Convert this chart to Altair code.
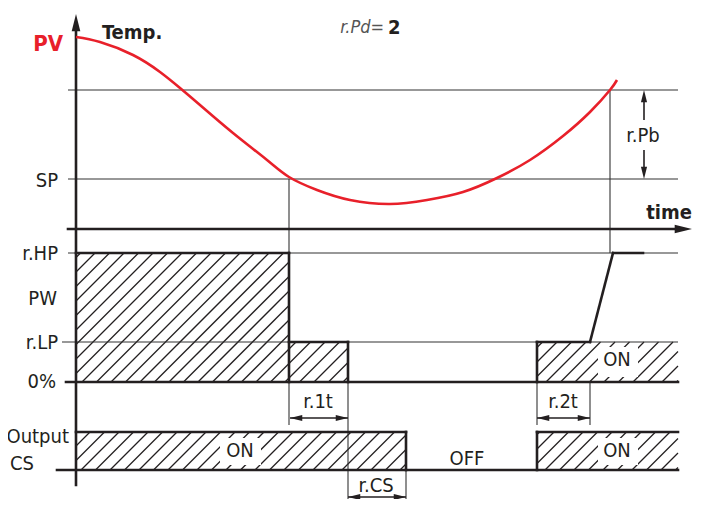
import altair as alt
import pandas as pd

# ---------------- data (diagram units = reference pixels) ----------------
# PV temperature curve
curve_x = [76, 100, 133, 160, 180, 200, 233, 267, 289, 317, 350, 390, 427, 463, 497, 530, 563, 590, 610, 617]
curve_y = [37, 42, 55, 72, 88, 105, 133, 160, 177, 190, 200, 204, 200, 192, 178, 160, 136, 112, 90, 80]

# thin reference lines: x1, y1, x2, y2
thin_x1 = [68, 68, 68, 62, 289, 348, 406, 610, 537, 590]
thin_y1 = [90, 179, 253, 342, 179, 382, 470, 90, 382, 382]
thin_x2 = [678, 678, 678, 678, 289, 348, 406, 610, 537, 590]
thin_y2 = [90, 179, 253, 342, 425, 507, 507, 253, 425, 425]

# thick signal lines
thick_x1 = [76, 68, 76, 289, 289, 348, 66, 537, 537, 590, 613, 76, 406, 57, 537, 537]
thick_y1 = [26, 229, 253, 253, 342, 342, 382, 342, 342, 342, 253, 432, 432, 470, 432, 432]
thick_x2 = [76, 680, 289, 289, 348, 348, 678, 590, 537, 613, 643, 406, 406, 678, 678, 537]
thick_y2 = [485, 229, 253, 382, 342, 382, 382, 342, 382, 253, 253, 432, 470, 470, 432, 470]

# hatched regions: x0, y0, x1, y1
hatch_x0 = [76, 289, 537, 76, 537]
hatch_y0 = [253, 342, 342, 432, 432]
hatch_x1 = [289, 348, 678, 406, 678]
hatch_y1 = [382, 382, 382, 470, 470]

# dimension arrows (double headed): x1, x2, y
dim_x1 = [290, 537, 348]
dim_x2 = [348, 590, 406]
dim_y = [418, 418, 497]

# text labels
lab_text = ["SP", "r.HP", "PW", "r.LP", "0%", "Output", "CS", "r.1t", "r.2t", "r.CS", "r.Pb", "ON", "ON", "ON", "OFF"]
lab_x = [58, 58, 57, 58, 56, 69, 10, 318, 563, 376, 643, 240, 617, 617, 467]
lab_y = [181, 254, 299, 343, 382, 437, 464, 402, 402, 486, 136, 451, 360, 451, 459]
lab_align = ["right", "right", "right", "right", "right", "right", "left", "center", "center",
             "center", "center", "center", "center", "center", "center"]

# knockouts behind ON labels
ko_x0 = [220, 598, 598]
ko_x1 = [261, 638, 638]
ko_y0 = [438, 347, 438]
ko_y1 = [465, 377, 465]

FONT = "DejaVu Sans Condensed, Roboto, sans-serif"
INK = "#231f20"
RED = "#e8202a"

# ---------------- helpers ----------------
xs = alt.Scale(domain=[8, 693], nice=False, zero=False)
ys = alt.Scale(domain=[8, 499], reverse=True, nice=False, zero=False)


def X(f):
    return alt.X(f, type="quantitative", scale=xs, axis=None)


def Y(f):
    return alt.Y(f, type="quantitative", scale=ys, axis=None)


def segs(x1, y1, x2, y2):
    return pd.DataFrame({"x1": x1, "y1": y1, "x2": x2, "y2": y2})


# hatch lines (pattern decoration, "/" direction) clipped to each rectangle
SP = 14.5
hx1, hy1, hx2, hy2 = [], [], [], []
for a0, b0, a1, b1 in zip(hatch_x0, hatch_y0, hatch_x1, hatch_y1):
    k = int((a0 + b0) // SP)
    while k * SP <= a1 + b1:
        c = k * SP
        xa = max(a0, c - b1)
        xb = min(a1, c - b0)
        if xb - xa > 0.5:
            hx1.append(xa); hy1.append(c - xa)
            hx2.append(xb); hy2.append(c - xb)
        k += 1

hatch = alt.Chart(segs(hx1, hy1, hx2, hy2)).mark_rule(color=INK, strokeWidth=1.3).encode(
    x=X("x1"), y=Y("y1"), x2="x2", y2="y2")

knock = alt.Chart(pd.DataFrame({"a": ko_x0, "b": ko_x1, "c": ko_y0, "d": ko_y1})).mark_rect(
    color="white").encode(x=X("a"), x2="b", y=Y("c"), y2="d")

thin = alt.Chart(segs(thin_x1, thin_y1, thin_x2, thin_y2)).mark_rule(
    color="#333333", strokeWidth=1.1).encode(x=X("x1"), y=Y("y1"), x2="x2", y2="y2")

thick = alt.Chart(segs(thick_x1, thick_y1, thick_x2, thick_y2)).mark_rule(
    color=INK, strokeWidth=2.6, strokeCap="square").encode(x=X("x1"), y=Y("y1"), x2="x2", y2="y2")

curve = alt.Chart(pd.DataFrame({"x": curve_x, "y": curve_y})).mark_line(
    color=RED, strokeWidth=2.6, interpolate="natural").encode(x=X("x"), y=Y("y"))

dim_lines = alt.Chart(segs(dim_x1, dim_y, dim_x2, dim_y)).mark_rule(
    color=INK, strokeWidth=1.6).encode(x=X("x1"), y=Y("y1"), x2="x2", y2="y2")

# arrowheads: tip at point position, path pointing right, rotated by angle
small_head = "M0,0L-2,-0.5L-2,0.5Z"
heads_x = dim_x1 + dim_x2 + [644, 644]
heads_y = dim_y + dim_y + [90, 179]
heads_a = [180, 180, 180, 0, 0, 0, 270, 90]
heads = alt.Chart(pd.DataFrame({"x": heads_x, "y": heads_y, "a": heads_a})).mark_point(
    shape=small_head, filled=True, color=INK, size=150, opacity=1).encode(
    x=X("x"), y=Y("y"), angle=alt.Angle("a:Q", scale=None))

pb_lines = alt.Chart(segs([644, 644], [96, 150], [644, 644], [120, 173])).mark_rule(
    color=INK, strokeWidth=1.6).encode(x=X("x1"), y=Y("y1"), x2="x2", y2="y2")

big_head = "M0,0L-2,-0.5L-2,0.5Z"
axis_heads = alt.Chart(pd.DataFrame({"x": [76, 692], "y": [14, 229], "a": [270, 0]})).mark_point(
    shape=big_head, filled=True, color=INK, size=300, opacity=1).encode(
    x=X("x"), y=Y("y"), angle=alt.Angle("a:Q", scale=None))

lab_df = pd.DataFrame({"x": lab_x, "y": lab_y, "t": lab_text, "al": lab_align})
label_layers = []
for al in ["right", "left", "center"]:
    label_layers.append(
        alt.Chart(lab_df).transform_filter(f"datum.al == '{al}'").mark_text(
            font=FONT, fontSize=20, color=INK, align=al, baseline="middle").encode(
            x=X("x"), y=Y("y"), text="t:N"))

title_df = pd.DataFrame({"x": [63, 102, 692], "y": [44, 33, 213], "t": ["PV", "Temp.", "time"]})
pv = alt.Chart(title_df).transform_filter("datum.t == 'PV'").mark_text(
    font=FONT, fontSize=22, fontWeight="bold", color=RED, align="right", baseline="middle").encode(
    x=X("x"), y=Y("y"), text="t:N")
temp = alt.Chart(title_df).transform_filter("datum.t == 'Temp.'").mark_text(
    font=FONT, fontSize=20, fontWeight="bold", color=INK, align="left", baseline="middle").encode(
    x=X("x"), y=Y("y"), text="t:N")
timel = alt.Chart(title_df).transform_filter("datum.t == 'time'").mark_text(
    font=FONT, fontSize=20, fontWeight="bold", color=INK, align="right", baseline="middle").encode(
    x=X("x"), y=Y("y"), text="t:N")

rpd_df = pd.DataFrame({"x": [384, 388], "y": [28, 28], "t": ["r.Pd=", "2"]})
rpd = alt.Chart(rpd_df).transform_filter("datum.t == 'r.Pd='").mark_text(
    font=FONT, fontSize=18, fontStyle="italic", color="#555555", align="right", baseline="middle").encode(
    x=X("x"), y=Y("y"), text="t:N")
rpd2 = alt.Chart(rpd_df).transform_filter("datum.t == '2'").mark_text(
    font=FONT, fontSize=20, fontWeight="bold", color=INK, align="left", baseline="middle").encode(
    x=X("x"), y=Y("y"), text="t:N")

chart = alt.layer(
    hatch, knock, thin, thick, curve, dim_lines, pb_lines, heads, axis_heads,
    *label_layers, pv, temp, timel, rpd, rpd2
).properties(width=685, height=491, padding=0, autosize="none").configure_view(stroke=None)

chart.save("out.html", embed_options={"renderer": "svg", "actions": False})
